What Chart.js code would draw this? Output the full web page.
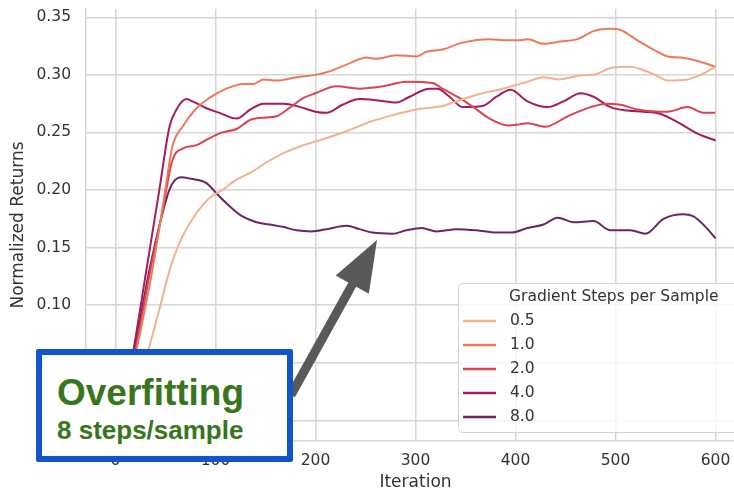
<!DOCTYPE html>
<html>
<head>
<meta charset="utf-8">
<script src="https://cdn.jsdelivr.net/npm/chart.js@4.4.0/dist/chart.umd.min.js"></script>
<style>
html, body { margin: 0; padding: 0; overflow: hidden; background: #fff; }
#wrap { position: relative; width: 746px; height: 493px; }
#note {
    position: absolute; left: 36px; top: 349px; width: 245px; height: 101px;
    border: 6px solid #1155cc; border-radius: 2px; background: #fff;
    font-family: "Liberation Sans", Arial, sans-serif; font-weight: bold; color: #38761d;
}
#note .big { position: absolute; left: 15px; top: 19px; font-size: 37px; line-height: 37px; white-space: nowrap; }
#note .small { position: absolute; left: 15px; top: 62px; font-size: 26px; line-height: 26px; white-space: nowrap; }
</style>
</head>
<body>
<div id="wrap">
    <canvas id="js--chart" width="746" height="493"></canvas>
    <div id="note"><span class="big">Overfitting</span><span class="small">8 steps/sample</span></div>
</div>
<script>
const legendTitle = 'Gradient Steps per Sample';
const labels = ['0.5', '1.0', '2.0', '4.0', '8.0'];
const colors = ['#f2b28f', '#eb7a57', '#da4350', '#a61c5b', '#6c2660'];

const iter05 = [15, 33, 45, 54, 65, 81, 94, 107, 121, 135, 151, 168, 185, 200, 214, 234, 254, 277, 301, 327, 344, 367, 387, 404, 412, 428, 443, 462, 482, 495, 515, 528, 542, 552, 572, 585, 600];
const ret05 = [0.0, 0.061, 0.100, 0.130, 0.156, 0.180, 0.193, 0.200, 0.209, 0.215, 0.224, 0.232, 0.238, 0.242, 0.246, 0.252, 0.259, 0.265, 0.270, 0.273, 0.278, 0.284, 0.288, 0.292, 0.294, 0.298, 0.296, 0.299, 0.301, 0.306, 0.307, 0.304, 0.299, 0.295, 0.296, 0.300, 0.307];

const iter10 = [5, 21, 37, 47, 57, 67, 81, 94, 111, 128, 138, 148, 161, 181, 200, 214, 234, 251, 261, 281, 301, 311, 327, 347, 374, 391, 404, 412, 428, 445, 462, 478, 495, 505, 522, 538, 552, 565, 582, 600];
const ret10 = [0.0, 0.061, 0.131, 0.184, 0.238, 0.255, 0.271, 0.280, 0.288, 0.292, 0.292, 0.296, 0.295, 0.298, 0.300, 0.303, 0.310, 0.315, 0.314, 0.317, 0.316, 0.320, 0.322, 0.328, 0.331, 0.330, 0.330, 0.331, 0.327, 0.329, 0.331, 0.338, 0.340, 0.339, 0.330, 0.322, 0.316, 0.315, 0.312, 0.307];

const iter20 = [5, 20, 35, 47, 57, 67, 81, 94, 107, 121, 135, 151, 161, 175, 188, 200, 221, 244, 267, 291, 317, 327, 344, 361, 374, 392, 404, 412, 430, 452, 475, 492, 505, 522, 552, 572, 588, 600];
const ret20 = [0.0, 0.061, 0.131, 0.182, 0.226, 0.236, 0.239, 0.245, 0.250, 0.253, 0.261, 0.263, 0.264, 0.272, 0.280, 0.284, 0.290, 0.288, 0.290, 0.294, 0.293, 0.288, 0.280, 0.270, 0.262, 0.256, 0.257, 0.258, 0.255, 0.264, 0.272, 0.275, 0.274, 0.270, 0.268, 0.272, 0.267, 0.267];

const iter40 = [5, 18, 31, 44, 54, 61, 71, 77, 91, 104, 121, 135, 148, 168, 185, 200, 211, 227, 244, 261, 281, 294, 314, 322, 334, 347, 367, 381, 395, 412, 432, 448, 465, 478, 495, 512, 528, 545, 562, 582, 600];
const ret40 = [0.0, 0.061, 0.131, 0.201, 0.255, 0.270, 0.279, 0.277, 0.271, 0.267, 0.262, 0.270, 0.275, 0.275, 0.272, 0.268, 0.267, 0.274, 0.279, 0.278, 0.276, 0.281, 0.288, 0.288, 0.281, 0.272, 0.273, 0.281, 0.287, 0.277, 0.272, 0.277, 0.284, 0.281, 0.272, 0.269, 0.268, 0.266, 0.259, 0.249, 0.243];

const iter80 = [5, 19, 34, 47, 53, 58, 66, 74, 91, 101, 114, 127, 141, 154, 167, 181, 196, 211, 231, 244, 257, 277, 291, 306, 321, 341, 361, 381, 396, 412, 428, 442, 458, 478, 495, 515, 530, 548, 568, 578, 590, 600];
const ret80 = [0.0, 0.061, 0.131, 0.180, 0.198, 0.207, 0.211, 0.210, 0.206, 0.197, 0.186, 0.177, 0.172, 0.170, 0.168, 0.165, 0.164, 0.166, 0.169, 0.166, 0.163, 0.162, 0.165, 0.167, 0.164, 0.166, 0.165, 0.163, 0.163, 0.167, 0.170, 0.176, 0.172, 0.173, 0.165, 0.165, 0.162, 0.175, 0.179, 0.177, 0.168, 0.158];

const xTicks = [0, 100, 200, 300, 400, 500, 600];
const yTicks = [0.00, 0.05, 0.10, 0.15, 0.20, 0.25, 0.30, 0.35];

const seriesX = [iter05, iter10, iter20, iter40, iter80];
const seriesY = [ret05, ret10, ret20, ret40, ret80];

const tickFont = { family: 'DejaVu Sans', size: 15.5 };
const gridColor = '#d6d6d6';

// legend box + arrow drawn on top of the plot
const overlay = {
    id: 'overlay',
    afterDraw(chart) {
        const c = chart.ctx;
        c.save();

        // arrow pointing at the 8.0 curve
        const tail = { x: 291, y: 395 }, tip = { x: 377, y: 240 };
        const dx = tip.x - tail.x, dy = tip.y - tail.y;
        const len = Math.hypot(dx, dy);
        const ux = dx / len, uy = dy / len, nx = -uy, ny = ux;
        const headLen = 51, headHalf = 19, shaftHalf = 4.5;
        const bx = tip.x - ux * headLen, by = tip.y - uy * headLen;
        c.fillStyle = '#595959';
        c.beginPath();
        c.moveTo(tail.x + nx * shaftHalf, tail.y + ny * shaftHalf);
        c.lineTo(bx + nx * shaftHalf, by + ny * shaftHalf);
        c.lineTo(bx + nx * headHalf, by + ny * headHalf);
        c.lineTo(tip.x, tip.y);
        c.lineTo(bx - nx * headHalf, by - ny * headHalf);
        c.lineTo(bx - nx * shaftHalf, by - ny * shaftHalf);
        c.lineTo(tail.x - nx * shaftHalf, tail.y - ny * shaftHalf);
        c.closePath();
        c.fill();

        // legend
        c.fillStyle = 'rgba(255,255,255,0.8)';
        c.strokeStyle = '#d3d3d3';
        c.lineWidth = 1;
        c.beginPath();
        c.roundRect(458.5, 283.5, 300, 149, 4);
        c.fill();
        c.stroke();

        c.font = '15.5px "DejaVu Sans"';
        c.textBaseline = 'middle';
        c.textAlign = 'left';
        c.fillStyle = '#333';
        c.fillText(legendTitle, 509, 297);
        chart.data.datasets.forEach((ds, i) => {
            const y = 321 + i * 24;
            c.strokeStyle = ds.borderColor;
            c.lineWidth = 2.5;
            c.beginPath();
            c.moveTo(463, y);
            c.lineTo(496, y);
            c.stroke();
            c.fillStyle = '#333';
            c.fillText(ds.label, 510, y);
        });
        c.restore();
    }
};

new Chart(document.getElementById('js--chart'), {
    type: 'line',
    data: {
        datasets: labels.map((label, i) => ({
            label: label,
            data: seriesX[i].map((x, j) => ({ x: x, y: seriesY[i][j] })),
            borderColor: colors[i],
            borderWidth: 2,
            pointRadius: 0,
            fill: false,
            cubicInterpolationMode: 'monotone'
        }))
    },
    options: {
        responsive: false,
        animation: false,
        layout: { padding: { top: 9, right: 1, left: 0, bottom: 0 } },
        plugins: { legend: { display: false }, tooltip: { enabled: false } },
        scales: {
            x: {
                type: 'linear',
                min: -29.5,
                max: 629.5,
                afterFit: s => { s.height = 52; s.paddingLeft = 0; s.paddingRight = 0; },
                afterBuildTicks: s => { s.ticks = xTicks.map(v => ({ value: v })); },
                ticks: { font: tickFont, color: '#333', padding: 11, maxRotation: 0 },
                grid: { color: gridColor, lineWidth: 1.5, drawTicks: false },
                border: { color: gridColor, width: 1.5 },
                title: { display: true, text: 'Iteration', color: '#333', font: { family: 'DejaVu Sans', size: 17 }, padding: { top: 0, bottom: 0 } }
            },
            y: {
                min: -0.018,
                max: 0.3572,
                afterFit: s => { s.width = 86; s.paddingTop = 0; s.paddingBottom = 0; },
                afterBuildTicks: s => { s.ticks = yTicks.map(v => ({ value: v })); },
                ticks: { font: tickFont, color: '#333', padding: 15, callback: v => v.toFixed(2) },
                grid: { color: gridColor, lineWidth: 1.5, drawTicks: false },
                border: { color: gridColor, width: 1.5 },
                title: { display: true, text: 'Normalized Returns', color: '#333', font: { family: 'DejaVu Sans', size: 17 }, padding: { top: 8, bottom: 0 } }
            }
        }
    },
    plugins: [overlay]
});
</script>
</body>
</html>
